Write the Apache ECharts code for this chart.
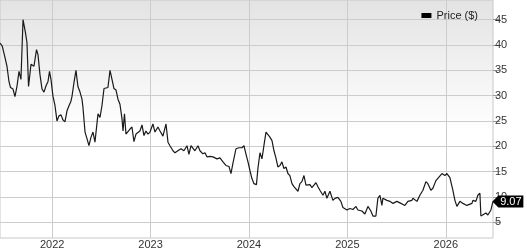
<!DOCTYPE html>
<html><head><meta charset="utf-8">
<script src="https://cdn.jsdelivr.net/npm/echarts@6/dist/echarts.min.js"></script>
<style>html,body{margin:0;padding:0;background:#fff}#c{width:527px;height:250px}</style>
</head><body><div id="c"></div>
<script>
const seriesName = 'Price ($)';
const xTicks = [2022, 2023, 2024, 2025, 2026];
const yTicks = [5, 10, 15, 20, 25, 30, 35, 40, 45];
const lastPrice = 9.07;
const dates = [
2021.470,2021.493,2021.521,2021.541,2021.561,2021.577,2021.602,2021.622,2021.643,2021.663,
2021.683,2021.704,2021.729,2021.744,2021.760,2021.785,2021.815,2021.826,2021.841,2021.856,
2021.876,2021.897,2021.917,2021.937,2021.958,2021.973,2021.988,2022.008,2022.029,2022.049,
2022.069,2022.090,2022.110,2022.130,2022.151,2022.171,2022.191,2022.202,2022.222,2022.242,
2022.262,2022.283,2022.303,2022.313,2022.334,2022.354,2022.374,2022.395,2022.415,2022.435,
2022.450,2022.466,2022.486,2022.506,2022.527,2022.547,2022.567,2022.588,2022.608,2022.628,
2022.649,2022.669,2022.689,2022.710,2022.720,2022.735,2022.750,2022.770,2022.791,2022.811,
2022.831,2022.852,2022.872,2022.892,2022.913,2022.933,2022.953,2022.974,2022.994,2023.024,
2023.045,2023.075,2023.096,2023.126,2023.157,2023.177,2023.197,2023.228,2023.248,2023.278,
2023.309,2023.339,2023.370,2023.390,2023.411,2023.431,2023.451,2023.482,2023.502,2023.532,
2023.553,2023.573,2023.604,2023.634,2023.654,2023.675,2023.705,2023.736,2023.766,2023.797,
2023.817,2023.837,2023.868,2023.898,2023.929,2023.949,2023.969,2023.990,2024.010,2024.030,
2024.051,2024.076,2024.091,2024.112,2024.132,2024.152,2024.173,2024.193,2024.213,2024.234,
2024.254,2024.274,2024.294,2024.315,2024.335,2024.355,2024.376,2024.396,2024.416,2024.437,
2024.457,2024.477,2024.498,2024.518,2024.538,2024.559,2024.579,2024.599,2024.620,2024.640,
2024.660,2024.681,2024.701,2024.721,2024.752,2024.772,2024.792,2024.823,2024.853,2024.874,
2024.904,2024.934,2024.955,2024.996,2025.026,2025.057,2025.087,2025.107,2025.148,2025.178,
2025.209,2025.239,2025.260,2025.290,2025.310,2025.331,2025.351,2025.361,2025.402,2025.432,
2025.463,2025.503,2025.534,2025.585,2025.615,2025.656,2025.666,2025.707,2025.737,2025.768,
2025.798,2025.818,2025.849,2025.869,2025.900,2025.920,2025.961,2025.991,2026.012,2026.042,
2026.072,2026.093,2026.113,2026.144,2026.174,2026.214,2026.225,2026.266,2026.276,2026.306,
2026.326,2026.347,2026.357,2026.377,2026.408,2026.428,2026.459,2026.479
];
const prices = [
40.4,39.8,37.5,35.8,32.8,31.6,31.3,29.8,31.9,34.8,
33.2,45.0,42.4,40.5,31.8,36.2,35.8,35.5,39.1,38.1,
34.2,31.3,30.7,31.9,32.8,34.8,33.2,29.9,28.0,25.0,
26.0,26.2,25.2,24.8,27.0,28.0,28.9,29.9,32.6,35.0,
31.8,30.7,29.3,27.7,22.8,21.5,20.1,21.8,22.8,20.8,
21.0,26.4,25.7,28.0,31.4,31.6,31.6,35.0,33.2,31.4,
31.1,29.3,28.3,25.4,23.0,26.4,22.4,22.4,23.4,23.8,
20.9,22.4,22.1,23.0,24.2,22.1,23.0,22.4,22.8,24.4,
22.8,23.8,23.0,22.0,24.4,20.8,20.1,19.1,18.7,19.1,
19.5,19.1,20.1,18.4,20.1,20.3,19.1,20.1,19.1,18.5,
18.7,17.9,18.0,17.9,18.1,17.5,17.7,16.9,16.2,16.0,
14.6,16.6,19.5,19.7,19.7,20.1,18.5,16.9,15.2,13.6,
12.6,12.4,15.6,18.7,17.5,20.1,22.8,22.3,21.8,21.1,
19.1,17.7,15.9,16.2,16.9,15.6,15.9,14.6,14.2,12.6,
12.0,11.7,11.1,12.6,13.0,14.2,12.3,12.4,12.4,11.8,
12.0,12.8,12.0,11.3,10.3,11.1,9.7,11.1,9.3,9.7,
9.9,9.1,7.9,7.4,7.7,7.5,8.1,7.4,7.2,6.6,
8.1,7.2,6.2,6.2,9.7,10.3,8.3,9.7,9.3,9.1,
8.7,9.1,8.8,8.3,9.1,9.3,9.7,9.1,10.3,11.3,
13.0,12.6,11.3,11.7,13.2,13.2,14.6,14.2,14.6,13.8,
11.3,9.3,8.1,9.1,8.7,8.3,8.1,8.7,9.3,9.1,
10.3,10.7,6.2,6.4,6.8,6.4,7.4,9.07
];
const points = dates.map((d, i) => [d, prices[i]]);
const lastIdx = dates.length - 1;

const chart = echarts.init(document.getElementById('c'), null, {renderer: 'canvas'});
const font = 'Liberation Sans, Arial, sans-serif';
chart.setOption({
  animation: false,
  textStyle: {fontFamily: font},
  grid: {
    left: 0, top: 0, right: 34, bottom: 10,
    show: true, borderColor: '#c8c8c8', borderWidth: 1,
    backgroundColor: new echarts.graphic.LinearGradient(0, 0, 0, 1, [
      {offset: 0, color: '#e3e3e3'},
      {offset: 0.55, color: '#ffffff'},
      {offset: 1, color: '#ffffff'}
    ])
  },
  legend: {
    right: 44, top: 5, itemWidth: 10, itemHeight: 5, itemGap: 5,
    icon: 'rect',
    textStyle: {fontSize: 11, color: '#222', fontFamily: font},
    data: [seriesName]
  },
  xAxis: {
    type: 'value', min: 2021.47, max: 2026.48,
    axisLine: {show: false},
    axisTick: {show: false, customValues: xTicks},
    axisLabel: {customValues: xTicks, fontSize: 11, color: '#333', margin: 1, formatter: v => String(v)},
    splitLine: {show: true, lineStyle: {color: '#cccccc', width: 1}}
  },
  yAxis: {
    type: 'value', position: 'right', min: 1.86, max: 48.9,
    axisLine: {show: false},
    axisTick: {show: true, inside: false, length: 7, customValues: yTicks, lineStyle: {color: '#999'}},
    axisLabel: {customValues: yTicks, fontSize: 11, color: '#333', margin: 2},
    splitLine: {show: true, lineStyle: {color: '#cccccc', width: 1}}
  },
  series: [{
    name: seriesName, type: 'line', data: points,
    showSymbol: false, symbol: 'none',
    lineStyle: {color: '#1a1a1a', width: 1.2},
    itemStyle: {color: '#000'},
    markPoint: {
      symbol: 'path://M0,6 L6,0 L31,0 L31,12 L6,12 Z',
      symbolSize: [31, 12],
      symbolOffset: [15, 0],
      itemStyle: {color: '#000'},
      label: {show: true, color: '#fff', fontSize: 11, fontFamily: font, offset: [3, 0], formatter: () => lastPrice.toFixed(2)},
      data: [{coord: [dates[lastIdx], prices[lastIdx]]}]
    }
  }]
});
</script></body></html>
